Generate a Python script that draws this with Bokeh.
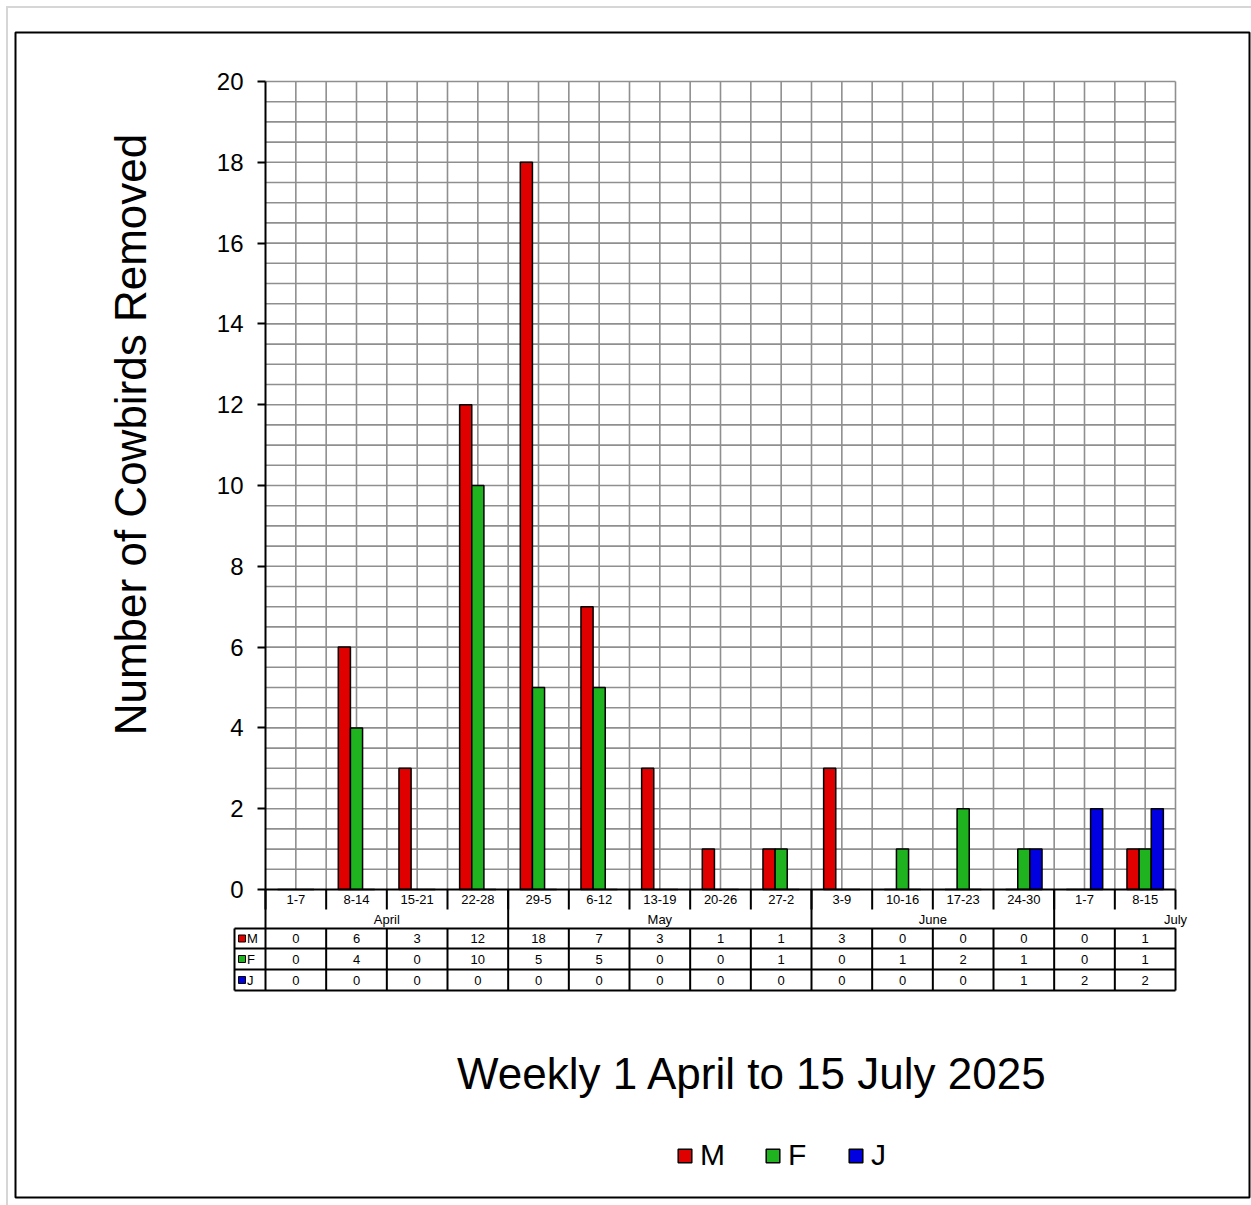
import numpy as np
from bokeh.plotting import figure
from bokeh.models import Range1d, LinearAxis, FixedTicker, Legend, LegendItem
from bokeh.core.properties import value
from bokeh.embed import file_html
from bokeh.resources import INLINE

# ---------------- data ----------------
weeks = ["1-7", "8-14", "15-21", "22-28", "29-5", "6-12", "13-19", "20-26",
         "27-2", "3-9", "10-16", "17-23", "24-30", "1-7", "8-15"]
months = ["April", "May", "June", "July"]
month_weeks = [4, 5, 4, 2]
males = [0, 6, 3, 12, 18, 7, 3, 1, 1, 3, 0, 0, 0, 0, 1]
females = [0, 4, 0, 10, 5, 5, 0, 0, 1, 0, 1, 2, 1, 0, 1]
juveniles = [0, 0, 0, 0, 0, 0, 0, 0, 0, 0, 0, 0, 1, 2, 2]
series_names = ["M", "F", "J"]
series_colors = ["#e00000", "#1fb41f", "#0000e0"]
y_ticks = [0, 2, 4, 6, 8, 10, 12, 14, 16, 18, 20]
y_title = "Number of Cowbirds Removed"
x_title = "Weekly 1 April to 15 July 2025"

# ---------------- layout constants ----------------
FONT = value("Liberation Sans")
n = len(weeks)
YMAX = 20
PX_X = 910 / n      # px per category
PX_Y = 808 / YMAX   # px per unit
X0 = (15 - 265) / PX_X
X1 = (1249 - 265) / PX_X
YT = (889 - 32) / PX_Y
YB = (889 - 1197) / PX_Y

p = figure(width=1243, height=1197, x_range=Range1d(X0, X1), y_range=Range1d(YB, YT),
           output_backend="svg", toolbar_location=None,
           x_axis_location=None, y_axis_location=None,
           min_border_left=7, min_border_right=2, min_border_top=24, min_border_bottom=8)
for g in p.grid:
    g.visible = False
p.outline_line_color = "black"
p.outline_line_width = 2
p.background_fill_color = "white"
p.border_fill_color = "white"
p.styles = {"margin-left": "8px", "margin-top": "8px", "outline": "2px solid #d6d6d6"}

GRID = "#8f8f8f"
# grid lines
gx = np.arange(1, 2 * n + 1) / 2.0
p.segment(x0=gx, y0=0, x1=gx, y1=YMAX, line_color=GRID, line_width=1.6)
gy = np.arange(1, 2 * YMAX + 1) / 2.0
p.segment(x0=0, y0=gy, x1=n, y1=gy, line_color=GRID, line_width=1.6)

# bars
xc = np.arange(n) + 0.5
renderers = []
for k, (vals, col) in enumerate(zip([males, females, juveniles], series_colors)):
    r = p.vbar(x=xc + (k - 1) * 0.2, top=vals, bottom=0, width=0.2,
               fill_color=col, line_color="black", line_width=1.5)
    renderers.append(r)

# baseline
p.segment(x0=[0], y0=[0], x1=[n], y1=[0], line_color="black", line_width=2)

# y axis
ax = LinearAxis(fixed_location=0, bounds=(0, YMAX),
                ticker=FixedTicker(ticks=y_ticks, minor_ticks=[]))
ax.axis_line_width = 2
ax.axis_line_color = "black"
ax.major_tick_line_width = 2
ax.major_tick_line_color = "black"
ax.major_tick_out = 8
ax.major_tick_in = 0
ax.minor_tick_line_color = None
ax.major_label_text_font_size = "24px"
ax.major_label_text_font = "Liberation Sans"
ax.major_label_text_color = "black"
ax.major_label_standoff = 14
p.add_layout(ax, "left")

# ---------------- table below ----------------
r_lab = -(909 - 889) / PX_Y
r_mon = -(928 - 889) / PX_Y
r_m = -(948 - 889) / PX_Y
r_f = -(969 - 889) / PX_Y
r_j = -(990 - 889) / PX_Y
XL = (234 - 265) / PX_X

# category separators in label row
bx = np.arange(0, n + 1)
p.segment(x0=bx, y0=0, x1=bx, y1=r_lab, line_color="black", line_width=2)
# month separators (through month row)
mb = np.concatenate([[0], np.cumsum(month_weeks)[:-1]])
p.segment(x0=mb, y0=0, x1=mb, y1=r_mon, line_color="black", line_width=2)
# value table grid
hy = [r_mon, r_m, r_f, r_j]
p.segment(x0=XL, y0=hy, x1=n, y1=hy, line_color="black", line_width=2)
vx = np.concatenate([[XL], bx])
p.segment(x0=vx, y0=r_mon, x1=vx, y1=r_j, line_color="black", line_width=2)

# category labels
p.text(x=xc, y=r_lab / 2, text=weeks, text_font=FONT, text_font_size="13px",
       text_align="center", text_baseline="middle", text_color="black")
# month labels
starts = np.concatenate([[0], np.cumsum(month_weeks)[:-1]])
mx = starts + np.array(month_weeks) / 2.0
mx[-1] = n  # last month label sits at the right edge in the original
p.text(x=mx, y=(r_lab + r_mon) / 2, text=months, text_font=FONT, text_font_size="13px",
       text_align="center", text_baseline="middle", text_color="black")
# values
row_centers = [(r_mon + r_m) / 2, (r_m + r_f) / 2, (r_f + r_j) / 2]
for vals, yc in zip([males, females, juveniles], row_centers):
    p.text(x=xc, y=[yc] * n, text=[str(v) for v in vals], text_font=FONT,
           text_font_size="13px", text_align="center", text_baseline="middle",
           text_color="black")
# row headers
p.scatter(x=[(241.5 - 265) / PX_X] * 3, y=row_centers, marker="square", size=7,
          fill_color=series_colors, line_color="black", line_width=1)
p.text(x=[(246.5 - 265) / PX_X] * 3, y=row_centers, text=series_names, text_font=FONT,
       text_font_size="13px", text_align="left", text_baseline="middle", text_color="black")

# titles
p.text(x=[(130 - 265) / PX_X], y=[(889 - 434) / PX_Y], text=[y_title], angle=np.pi / 2,
       text_font=FONT, text_font_size="44px", text_align="center", text_baseline="middle",
       text_color="black")
p.text(x=[(752 - 265) / PX_X], y=[(889 - 1073) / PX_Y], text=[x_title],
       text_font=FONT, text_font_size="44px", text_align="center", text_baseline="middle",
       text_color="black")

# legend
legend = Legend(items=[LegendItem(label=nm, renderers=[r]) for nm, r in zip(series_names, renderers)],
                orientation="horizontal", location=(661, 25))
legend.label_text_font = "Liberation Sans"
legend.label_text_font_size = "30px"
legend.label_text_color = "black"
legend.glyph_width = 17
legend.glyph_height = 17
legend.label_standoff = 7
legend.spacing = 39
legend.padding = 0
legend.margin = 0
legend.border_line_color = None
legend.background_fill_alpha = 0
p.add_layout(legend)

open("out.html", "w").write(file_html(p, INLINE))
